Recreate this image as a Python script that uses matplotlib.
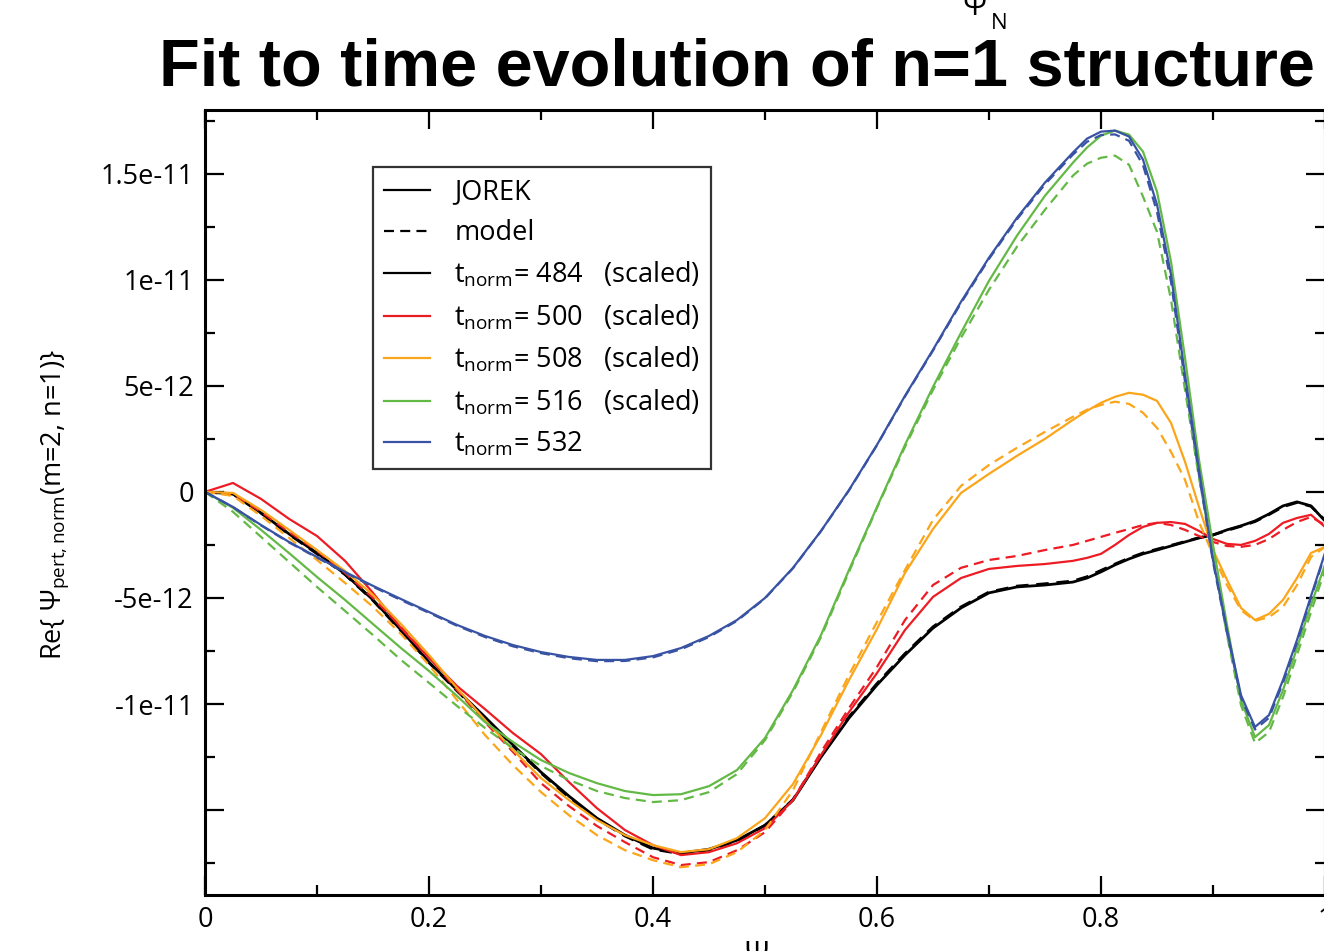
import numpy as np
import matplotlib
matplotlib.use("Agg")
import matplotlib.pyplot as plt
from matplotlib.lines import Line2D

plt.rcParams['font.family'] = ['Open Sans', 'DejaVu Sans']
plt.rcParams['mathtext.fontset'] = 'custom'
plt.rcParams['mathtext.rm'] = 'Open Sans'
plt.rcParams['mathtext.it'] = 'Open Sans:italic'
plt.rcParams['mathtext.bf'] = 'Open Sans:bold'

# Daten (y in Einheiten von 1e-12)
psi = [0, .025, .05, .075, .1, .125, .15, .175, .2, .225, .25, .275, .3, .325, .35,
       .375, .4, .425, .45, .475, .5, .525, .55, .575, .6, .625, .65, .675, .7, .725,
       .75, .775, .7875, .8, .8125, .825, .8375, .85, .8625, .875, .8875, .9, .9125,
       .925, .9375, .95, .9625, .975, .9875, 1.0]

black_jorek = [0, -0.09, -0.99, -1.98, -2.88, -3.87, -5.09, -6.51, -8.02, -9.34, -10.61,
               -11.93, -13.21, -14.34, -15.38, -16.18, -16.79, -17.03, -16.84, -16.42,
               -15.71, -14.53, -12.5, -10.66, -9.1, -7.69, -6.42, -5.47, -4.76, -4.48,
               -4.39, -4.25, -4.06, -3.77, -3.44, -3.16, -2.92, -2.74, -2.55, -2.36,
               -2.17, -2.03, -1.79, -1.6, -1.37, -1.04, -0.66, -0.47, -0.66, -1.37]
black_model = [0, -0.1, -1.0, -2.0, -2.92, -3.9, -5.12, -6.55, -8.05, -9.38, -10.66,
               -11.98, -13.25, -14.4, -15.42, -16.22, -16.84, -17.06, -16.88, -16.45,
               -15.72, -14.5, -12.45, -10.6, -9.03, -7.62, -6.36, -5.42, -4.72, -4.44,
               -4.33, -4.2, -4.0, -3.7, -3.4, -3.12, -2.88, -2.7, -2.52, -2.34,
               -2.16, -2.03, -1.82, -1.62, -1.4, -1.07, -0.7, -0.5, -0.68, -1.33]

red_jorek = [0, 0.42, -0.33, -1.27, -2.08, -3.25, -4.76, -6.42, -7.83, -9.15, -10.24,
             -11.37, -12.36, -13.68, -14.91, -15.94, -16.65, -17.12, -16.98, -16.56,
             -15.85, -14.53, -12.41, -10.38, -8.54, -6.51, -4.95, -4.06, -3.63, -3.49,
             -3.4, -3.25, -3.11, -2.92, -2.5, -2.03, -1.65, -1.46, -1.42, -1.51,
             -1.84, -2.22, -2.45, -2.5, -2.31, -1.98, -1.46, -1.23, -1.08, -1.65]
red_model = [0, -0.09, -0.94, -1.89, -2.78, -3.82, -5.0, -6.37, -7.78, -9.34, -10.85,
             -12.26, -13.73, -14.81, -15.75, -16.51, -17.22, -17.59, -17.45, -16.89,
             -16.04, -14.53, -12.26, -10.19, -8.25, -6.04, -4.39, -3.58, -3.21, -3.02,
             -2.74, -2.5, -2.31, -2.12, -1.93, -1.75, -1.56, -1.46, -1.56, -1.79,
             -2.08, -2.36, -2.55, -2.59, -2.5, -2.22, -1.79, -1.42, -1.18, -1.56]

orange_jorek = [0, -0.05, -0.85, -1.79, -2.74, -3.73, -4.86, -6.23, -7.69, -9.25, -10.75,
                -12.17, -13.49, -14.53, -15.47, -16.18, -16.65, -16.98, -16.84, -16.32,
                -15.38, -13.77, -11.46, -8.87, -6.46, -3.82, -1.75, -0.05, 0.85, 1.7,
                2.5, 3.4, 3.82, 4.2, 4.48, 4.67, 4.58, 4.29, 3.25, 1.42,
                -0.71, -2.74, -4.15, -5.47, -6.04, -5.75, -5.09, -4.06, -2.88, -2.59]
orange_model = [0, -0.19, -1.13, -2.17, -3.21, -4.29, -5.42, -6.7, -8.16, -9.81, -11.46,
                -12.88, -14.15, -15.24, -16.18, -16.89, -17.36, -17.69, -17.55, -16.98,
                -15.94, -14.06, -11.32, -8.63, -6.13, -3.68, -1.32, 0.28, 1.27, 2.08,
                2.83, 3.54, 3.87, 4.1, 4.25, 4.15, 3.73, 3.02, 1.89, 0.57,
                -1.42, -2.97, -4.39, -5.57, -6.08, -5.9, -5.42, -4.39, -3.07, -2.59]

green_jorek = [0, -0.75, -1.79, -2.88, -4.01, -5.09, -6.23, -7.36, -8.44, -9.62, -10.85,
               -11.79, -12.64, -13.25, -13.73, -14.1, -14.29, -14.25, -13.87, -13.11,
               -11.6, -9.34, -6.75, -3.68, -0.71, 2.22, 4.95, 7.5, 9.95, 12.08,
               13.96, 15.52, 16.23, 16.79, 17.03, 16.84, 16.04, 14.15, 10.85, 6.32,
               1.51, -2.5, -6.27, -9.81, -11.56, -10.99, -9.34, -7.36, -5.33, -3.44]
green_model = [0, -0.94, -2.12, -3.3, -4.48, -5.61, -6.75, -7.92, -9.0, -10.09, -11.13,
               -12.08, -12.92, -13.58, -14.1, -14.43, -14.62, -14.53, -14.15, -13.3,
               -11.7, -9.43, -6.84, -3.77, -0.75, 2.12, 4.81, 7.26, 9.53, 11.56,
               13.3, 14.91, 15.47, 15.75, 15.85, 15.42, 13.92, 12.26, 9.06, 4.81,
               0.66, -2.97, -6.75, -10.05, -11.84, -11.32, -9.67, -7.69, -5.66, -3.68]

blue_jorek = [0, -0.71, -1.56, -2.36, -3.07, -3.77, -4.43, -5.05, -5.66, -6.27, -6.79,
              -7.22, -7.55, -7.78, -7.92, -7.92, -7.74, -7.36, -6.79, -6.04,
              -5.0, -3.58, -1.84, 0.09, 2.22, 4.53, 6.7, 8.96, 11.04, 12.92,
              14.58, 16.0, 16.65, 16.98, 17.03, 16.75, 15.66, 13.54, 10.24, 5.52,
              1.04, -3.21, -6.51, -9.58, -11.08, -10.52, -8.87, -6.98, -4.91, -2.88]
blue_model = [0, -0.72, -1.58, -2.38, -3.1, -3.8, -4.47, -5.1, -5.7, -6.31, -6.84,
              -7.28, -7.6, -7.84, -7.98, -7.97, -7.8, -7.42, -6.84, -6.08,
              -5.02, -3.6, -1.85, 0.07, 2.2, 4.5, 6.66, 8.9, 10.98, 12.85,
              14.5, 15.9, 16.5, 16.82, 16.85, 16.55, 15.4, 13.2, 9.9, 5.2,
              0.8, -3.3, -6.65, -9.7, -11.2, -10.65, -9.0, -7.1, -5.0, -2.95]

times = ["484", "500", "508", "516", "532"]
scaled = [True, True, True, True, False]

series = [(black_jorek, black_model, "black"),
          (red_jorek, red_model, "#ed1c24"),
          (orange_jorek, orange_model, "#fba51a"),
          (green_jorek, green_model, "#64b946"),
          (blue_jorek, blue_model, "#3953a4")]

fig = plt.figure(figsize=(13.24, 9.51), dpi=100)
ax = fig.add_axes([205/1324, 56/951, 1120/1324, 785/951])

x = np.array(psi)
for jorek, model, col in series:
    lw = 2.0 if col == "black" else 1.6
    ax.plot(x, np.array(model) * 1e-12, color=col, lw=lw, ls=(0, (4.5, 2.8)))
    ax.plot(x, np.array(jorek) * 1e-12, color=col, lw=lw)

ax.set_xlim(0, 1)
ax.set_ylim(-19.0e-12, 18.0e-12)

ax.set_xticks([0, 0.2, 0.4, 0.6, 0.8, 1.0])
ax.set_xticklabels(["0", "0.2", "0.4", "0.6", "0.8", "1"])
ax.set_xticks([0.1, 0.3, 0.5, 0.7, 0.9], minor=True)
yt = [-15e-12, -10e-12, -5e-12, 0, 5e-12, 10e-12, 15e-12]
ax.set_yticks(yt)
ax.set_yticklabels(["", "-1e-11", "-5e-12", "0", "5e-12", "1e-11", "1.5e-11"])
ax.set_yticks([v * 1e-12 for v in [-17.5, -12.5, -7.5, -2.5, 2.5, 7.5, 12.5, 17.5]], minor=True)
ax.tick_params(which='both', direction='in', top=True, right=True, width=1.6, labelsize=19.5)
ax.tick_params(which='major', length=14, pad=8)
ax.tick_params(which='minor', length=7)
for s in ax.spines.values():
    s.set_linewidth(2.2)

# Legende
handles = [Line2D([], [], color="black", lw=1.6),
           Line2D([], [], color="black", lw=1.6, ls=(0, (4.5, 2.8)))]
labels = ["JOREK", "model"]
for (jorek, model, col), t, sc in zip(series, times, scaled):
    handles.append(Line2D([], [], color=col, lw=1.6))
    lab = r"$\mathrm{t_{norm}}$= " + t
    if sc:
        lab += "   (scaled)"
    labels.append(lab)
leg = ax.legend(handles, labels, loc="upper left", bbox_to_anchor=(0.15, 0.927),
                borderaxespad=0, fontsize=19.5, frameon=True, fancybox=False,
                edgecolor="black", handlelength=1.7, handletextpad=0.9,
                labelspacing=0.48, borderpad=0.4)
leg.get_frame().set_linewidth(1.6)

# Texte
fig.text(737/1324, 1 - 69/951, "Fit to time evolution of n=1 structure",
         ha="center", va="center", fontsize=48, fontweight="bold",
         family="Liberation Sans")
fig.text(975/1324, 1 - 15/951, "Ψ", ha="center", va="baseline", fontsize=22)
fig.text(999/1324, 1 - 29/951, "N", ha="center", va="baseline", fontsize=16)
fig.text(756/1324, 1 - 940/951, "Ψ", ha="center", va="top", fontsize=22)
fig.text(55/1324, 1 - 505/951, r"Re{ $\mathrm{\Psi_{pert,norm}}$(m=2, n=1)}",
         rotation=90, ha="center", va="center", fontsize=19.5)

fig.savefig("out.png", dpi=100)
